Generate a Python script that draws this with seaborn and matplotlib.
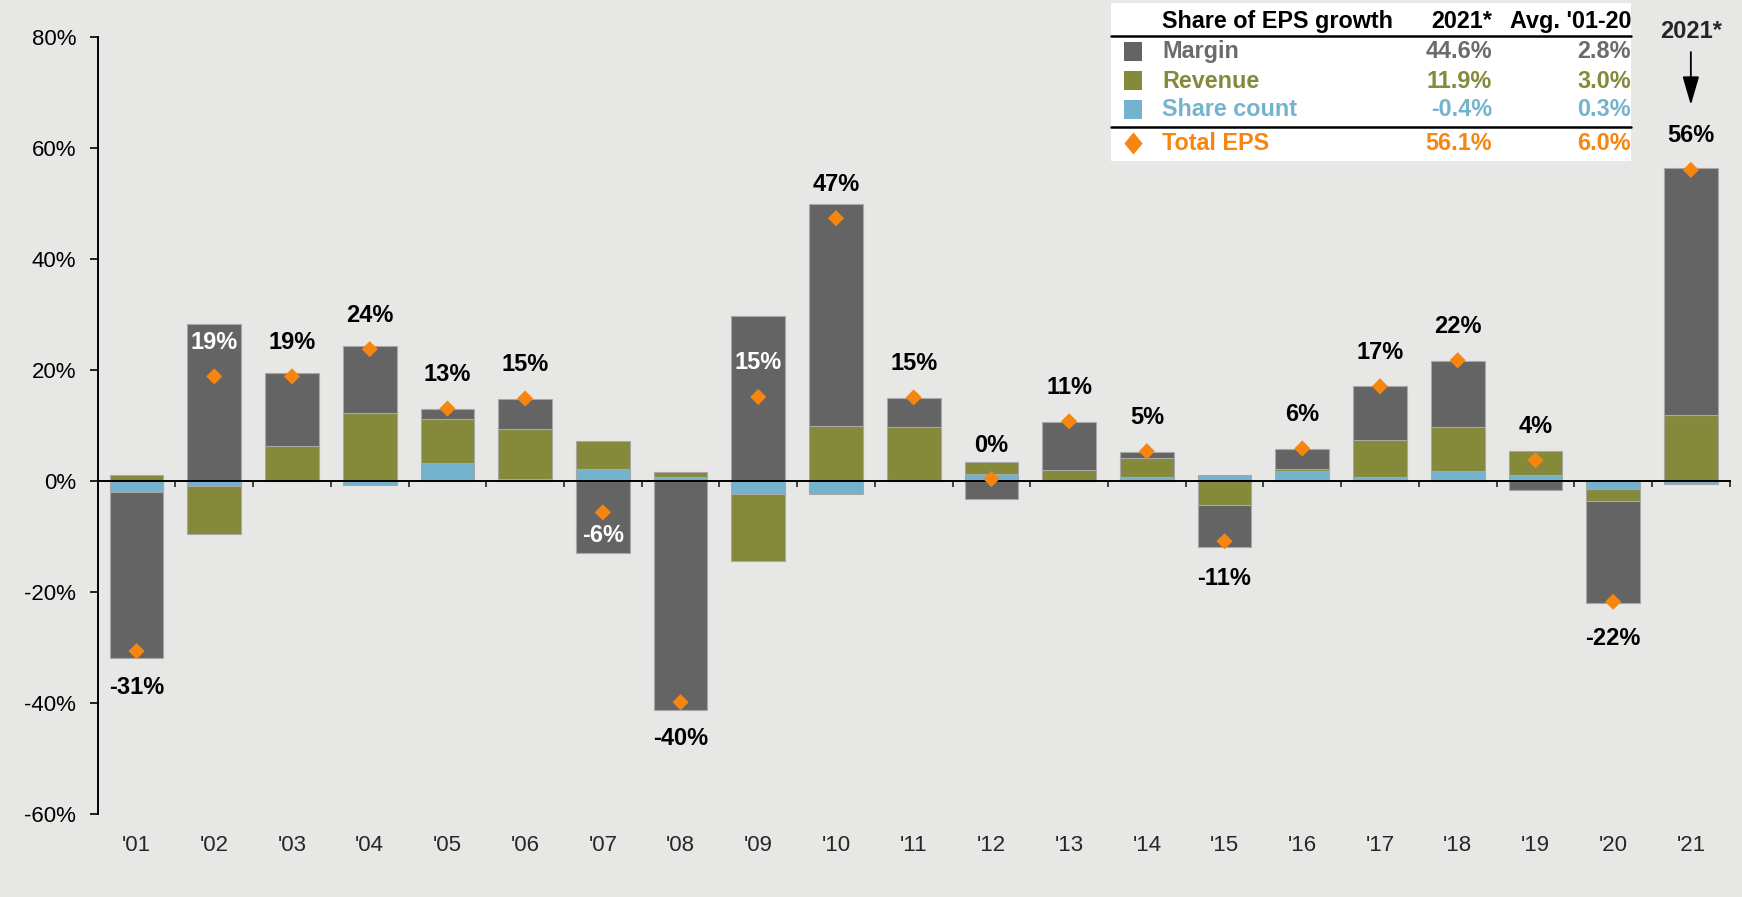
import numpy as np
import pandas as pd
import seaborn as sns
import matplotlib.pyplot as plt
from matplotlib.patches import Rectangle
from matplotlib.lines import Line2D
from matplotlib.transforms import blended_transform_factory

# Data
years = ["'01", "'02", "'03", "'04", "'05", "'06", "'07", "'08", "'09", "'10", "'11",
         "'12", "'13", "'14", "'15", "'16", "'17", "'18", "'19", "'20", "'21"]
share_count = [-2.0, -0.8, 0.0, -0.6, 3.3, 0.5, 2.3, 0.8, -2.3, -2.3, 0.3,
               1.4, 0.0, 0.7, 1.1, 1.9, 0.8, 1.9, 1.2, -1.3, -0.4]
revenue = [1.2, -8.7, 6.3, 12.3, 7.9, 8.9, 5.0, 0.8, -12.0, 9.9, 9.4,
           2.1, 2.1, 3.5, -4.3, 0.3, 6.7, 7.8, 4.2, -2.2, 11.9]
margin = [-29.8, 28.4, 13.2, 12.1, 1.8, 5.4, -13.0, -41.2, 29.8, 40.1, 5.3,
          -3.2, 8.6, 1.1, -7.6, 3.6, 9.6, 11.9, -1.6, -18.5, 44.6]
total_eps = [-30.6, 18.9, 18.9, 23.8, 13.1, 14.9, -5.6, -39.8, 15.2, 47.4, 15.1,
             0.4, 10.8, 5.4, -10.8, 5.9, 17.1, 21.8, 3.8, -21.7, 56.1]
inside_labels = ["'02", "'07", "'09"]

# Legend table
table_header = ["Share of EPS growth", "2021*", "Avg. '01-20"]
table_rows = ["Margin", "Revenue", "Share count", "Total EPS"]
table_2021 = ["44.6%", "11.9%", "-0.4%", "56.1%"]
table_avg = ["2.8%", "3.0%", "0.3%", "6.0%"]

c_margin = '#646464'
c_rev = '#85893a'
c_share = '#74b3ce'
c_eps = '#f6860f'
bg = '#e7e7e5'

sns.set_style('white', rc={'axes.facecolor': bg, 'figure.facecolor': bg})
plt.rcParams['font.family'] = ['Liberation Sans', 'DejaVu Sans']

W, H = 1742, 897
fig = plt.figure(figsize=(W / 100, H / 100), dpi=100)
ax = fig.add_axes([97.7 / W, 1 - 814.3 / H, 1632 / W, 777 / H])

# Stacked bars: positives stack up from 0, negatives stack down from 0
n = len(years)
pos_base = np.zeros(n)
neg_base = np.zeros(n)
for vals, col in [(share_count, c_share), (revenue, c_rev), (margin, c_margin)]:
    v = np.array(vals)
    bottom = np.where(v >= 0, pos_base, neg_base)
    df = pd.DataFrame({'year': years, 'value': v})
    sns.barplot(data=df, x='year', y='value', order=years, bottom=bottom, color=col,
                saturation=1, width=0.69, edgecolor='#a8a8a8', linewidth=0.8,
                errorbar=None, ax=ax)
    pos_base += np.clip(v, 0, None)
    neg_base += np.clip(v, None, 0)

# Total EPS diamonds
sns.scatterplot(x=np.arange(n), y=total_eps, marker='D', s=68, color=c_eps,
                edgecolor='none', linewidth=0, zorder=4, ax=ax, legend=False)

# Value labels
for i, (yr, t) in enumerate(zip(years, total_eps)):
    lab = f"{t:.0f}%"
    if yr in inside_labels:
        off = 24.5 if t >= 0 else -17
        col = 'white'
    else:
        off = 24.5 if t >= 0 else -26.5
        col = 'black'
    ax.annotate(lab, (i, t), xytext=(0, off), textcoords='offset points',
                ha='center', va='center', fontsize=17, fontweight='bold', color=col,
                zorder=5)

# 2021* arrow
ax.annotate('2021*', xy=(n - 1, total_eps[-1]), xytext=(0, 99.5), textcoords='offset points',
            ha='center', va='center', fontsize=17, fontweight='bold', annotation_clip=False,
            arrowprops=dict(arrowstyle='-|>,head_length=1.1,head_width=0.32', color='black',
                            lw=1.3, mutation_scale=16, shrinkA=4, shrinkB=46.8))

# Axes styling
ax.set_xlim(-0.5, n - 0.5)
ax.set_ylim(-60, 80)
ax.set_yticks(range(-60, 81, 20))
ax.set_yticklabels([f"{v}%" for v in range(-60, 81, 20)])
ax.set_xticks(np.arange(n) + 0.5)
ax.set_xticklabels([])
ax.set_xlabel('')
ax.set_ylabel('')
ax.spines['top'].set_visible(False)
ax.spines['right'].set_visible(False)
ax.spines['bottom'].set_position(('data', 0))
for s in ['left', 'bottom']:
    ax.spines[s].set_color('black')
    ax.spines[s].set_linewidth(1.4)
    ax.spines[s].set_zorder(3)
ax.tick_params(axis='y', direction='out', length=5.5, width=1.2, pad=10,
               labelsize=16, left=True, colors='black')
ax.tick_params(axis='x', direction='out', length=4.5, width=1.2, bottom=True,
               labelbottom=False)

trans = blended_transform_factory(ax.transData, ax.transAxes)
for i, yr in enumerate(years):
    ax.text(i, -0.0404, yr, transform=trans, ha='center', va='center', fontsize=16)

# Legend table (figure pixel coordinates)
def fx(px):
    return px / W


def fy(py):
    return 1 - py / H


fig.add_artist(Rectangle((fx(1111), fy(161)), fx(1631) - fx(1111), fy(3) - fy(161),
                         transform=fig.transFigure, facecolor='white', edgecolor='none',
                         zorder=1))
for yl in [35.7, 126.7]:
    fig.add_artist(Line2D([fx(1111), fx(1631)], [fy(yl), fy(yl)], color='black', lw=1.8,
                          transform=fig.transFigure, zorder=2))

row_y = [51.7, 81, 110, 143.3]
row_colors = ['#6b6b6b', c_rev, c_share, c_eps]
sq_colors = [c_margin, c_rev, c_share]
kw = dict(fontsize=16.8, fontweight='bold', va='center', transform=fig.transFigure, zorder=3)
fig.text(fx(1162), fy(21.7), table_header[0], ha='left', color='black', **kw)
fig.text(fx(1492), fy(21.7), table_header[1], ha='right', color='black', **kw)
fig.text(fx(1631), fy(21.7), table_header[2], ha='right', color='black', **kw)
for j, name in enumerate(table_rows):
    fig.text(fx(1162), fy(row_y[j]), name, ha='left', color=row_colors[j], **kw)
    fig.text(fx(1492), fy(row_y[j]), table_2021[j], ha='right', color=row_colors[j], **kw)
    fig.text(fx(1631), fy(row_y[j]), table_avg[j], ha='right', color=row_colors[j], **kw)
    if j < 3:
        fig.add_artist(Rectangle((fx(1124), fy(row_y[j] + 9.5)), fx(18), 19 / H,
                                 transform=fig.transFigure, facecolor=sq_colors[j],
                                 edgecolor='none', zorder=3))
    else:
        fig.add_artist(Line2D([fx(1133)], [fy(row_y[j])], marker=[(0, 1), (0.82, 0), (0, -1), (-0.82, 0)],
                              markersize=16, color=c_eps, markeredgewidth=0,
                              transform=fig.transFigure, zorder=3))

fig.savefig('out.png', dpi=100, facecolor=bg)
